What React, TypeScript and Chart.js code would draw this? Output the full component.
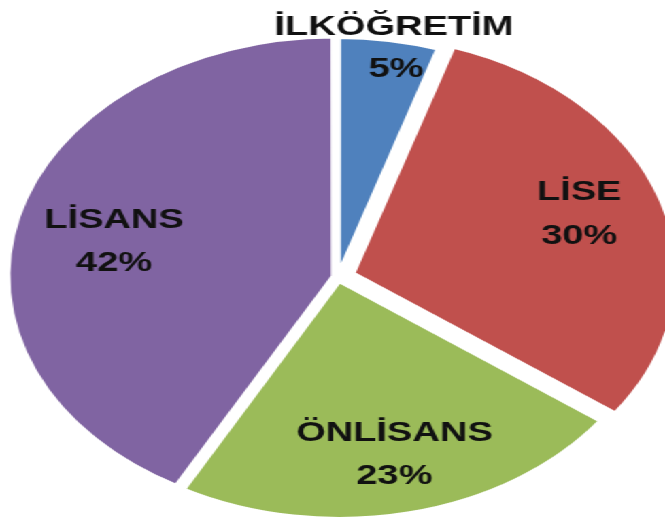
import React, { useEffect, useRef } from "react";
import { Chart, registerables } from "chart.js";

Chart.register(...registerables);

// ---- data ----
const categories = ["İLKÖĞRETİM", "LİSE", "ÖNLİSANS", "LİSANS"];
const percentages = [5, 30, 23, 42];
const colors = ["#4F81BD", "#C0504D", "#9BBB59", "#8064A2"];
// desired visible explosion distance of each slice (px, before stretch)
const explode = [2, 12, 4, 5];

// label placement (fraction along the arc, radius factor, vertical shift)
const nameFrac = [0.52, 0.486, 0.493, 0.486];
const nameRad = [1.056, 0.74, 0.75, 0.687];
const nameDy = [0, -22, -21, -21];
const valueFrac = [0.645, 0.486, 0.493, 0.486];
const valueRad = [0.884, 0.74, 0.75, 0.687];
const valueDy = [0, 22, 22, 22];

const STRETCH = 1.36;
const W = 489;
const H = 523;

const total = percentages.reduce((a, b) => a + b, 0);
// Chart.js arc translates by offset/4 * (1 + (1 - sin(min(PI, circumference))))
const fixOf = (v: number) => 1 - Math.sin(Math.min(Math.PI, (v / total) * 2 * Math.PI));
const offsetOption = percentages.map((v, i) => (4 * explode[i]) / (1 + fixOf(v)));

const labelPlugin = {
  id: "sliceLabels",
  afterDatasetsDraw(chart: any) {
    const ctx = chart.ctx;
    const meta = chart.getDatasetMeta(0);
    ctx.save();
    ctx.font = 'bold 28px "Liberation Sans", Arial, sans-serif';
    ctx.fillStyle = "#111";
    ctx.textAlign = "center";
    ctx.textBaseline = "middle";
    meta.data.forEach((arc: any, i: number) => {
      const { x, y, startAngle, endAngle, outerRadius } = arc.getProps(
        ["x", "y", "startAngle", "endAngle", "outerRadius"],
        true
      );
      const mid = (startAngle + endAngle) / 2;
      const off = explode[i];
      const cx = x + Math.cos(mid) * off;
      const cy = y + Math.sin(mid) * off;
      const a1 = startAngle + (endAngle - startAngle) * nameFrac[i];
      const a2 = startAngle + (endAngle - startAngle) * valueFrac[i];
      ctx.fillText(
        categories[i],
        cx + Math.cos(a1) * outerRadius * nameRad[i],
        cy + Math.sin(a1) * outerRadius * nameRad[i] + nameDy[i]
      );
      ctx.fillText(
        percentages[i] + "%",
        cx + Math.cos(a2) * outerRadius * valueRad[i],
        cy + Math.sin(a2) * outerRadius * valueRad[i] + valueDy[i]
      );
    });
    ctx.restore();
  },
};

export default function App() {
  const ref = useRef<HTMLCanvasElement>(null);
  useEffect(() => {
    if (!ref.current) return;
    const chart = new Chart(ref.current, {
      type: "pie",
      data: {
        labels: categories,
        datasets: [
          {
            data: percentages,
            backgroundColor: colors,
            borderColor: "#ffffff",
            borderWidth: 4,
            offset: offsetOption,
            radius: 238,
          } as any,
        ],
      },
      options: {
        responsive: false,
        animation: false,
        layout: { padding: { left: 8, right: 0, top: 31, bottom: 0 } },
        plugins: {
          legend: { display: false },
          tooltip: { enabled: false },
        },
      },
      plugins: [labelPlugin],
    });
    return () => chart.destroy();
  }, []);

  return (
    <div
      style={{
        position: "fixed",
        left: 0,
        top: 0,
        width: W,
        height: H,
        transform: `scaleX(${STRETCH})`,
        transformOrigin: "0 0",
        background: "#fff",
      }}
    >
      <canvas ref={ref} width={W} height={H} style={{ display: "block" }} />
    </div>
  );
}
